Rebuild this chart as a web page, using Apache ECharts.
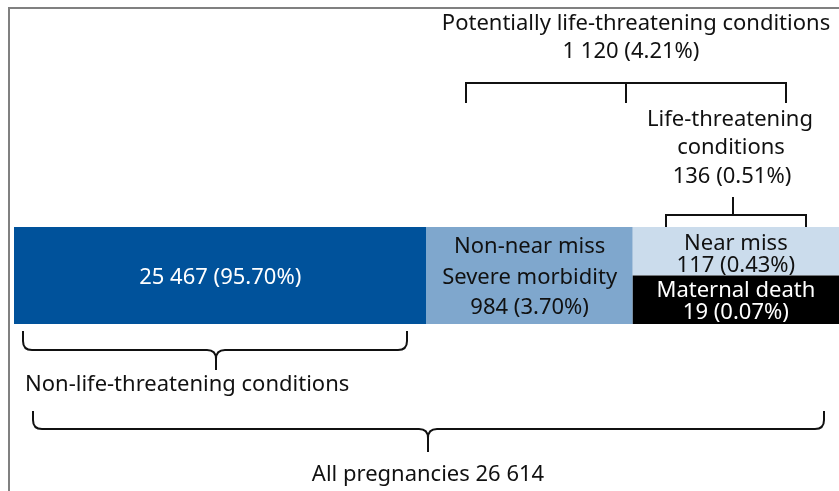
<!DOCTYPE html>
<html><head><meta charset="utf-8">
<script src="https://cdn.jsdelivr.net/npm/echarts@6/dist/echarts.min.js"></script>
<style>html,body{margin:0;padding:0;background:#fff}#c{width:839px;height:491px}</style>
</head><body><div id="c"></div>
<script>
// ---- data ----
const categories = ['Non-life-threatening conditions', 'Non-near miss severe morbidity', 'Near miss', 'Maternal death'];
const counts = [25467, 984, 117, 19];
const percents = [95.70, 3.70, 0.43, 0.07];
const totalPregnancies = 26614;
const potentialCount = 1120, potentialPct = 4.21;
const lifeThreatCount = 136, lifeThreatPct = 0.51;

// ---- schematic layout (not to scale) ----
const slotStart = [0, 2, 3, 3];
const slotEnd = [2, 3, 4, 4];
const rowStart = [0, 0, 1, 0];
const rowEnd = [2, 2, 2, 1];
const colors = ['#00529b', '#7fa7cd', '#cbdcec', '#000000'];
const textColors = ['#ffffff', '#111111', '#111111', '#ffffff'];
const lineHeights = [24, 30.5, 22.5, 22.5];
const labelOffsets = [2.5, 2, 3.5, 2];

const FONT = 'Noto Sans';
const FS = 22;

function fmt(n) { return String(n).replace(/\B(?=(\d{3})+(?!\d))/g, ' '); }
function cp(n, p) { return fmt(n) + ' (' + p.toFixed(2) + '%)'; }

const labels = [
  cp(counts[0], percents[0]),
  'Non-near miss\nSevere morbidity\n' + cp(counts[1], percents[1]),
  'Near miss\n' + cp(counts[2], percents[2]),
  'Maternal death\n' + cp(counts[3], percents[3])
];

const segData = categories.map((c, i) => ({
  name: c,
  value: [slotStart[i], slotEnd[i], rowStart[i], rowEnd[i], counts[i]]
}));

const chart = echarts.init(document.getElementById('c'), null, { renderer: 'canvas' });

function txt(x, y, s, align) {
  return { type: 'text', x: x, y: y, silent: true,
    style: { text: s, font: FS + 'px "' + FONT + '"', fill: '#111', align: align || 'center', verticalAlign: 'middle' } };
}

const pathStyle = { stroke: '#111', lineWidth: 2, fill: null };

function brace(x0, x1, top, y1, cx, bottom) {
  const r = 9;
  return 'M' + x0 + ',' + top + ' L' + x0 + ',' + (y1 - r) + ' Q' + x0 + ',' + y1 + ' ' + (x0 + r) + ',' + y1 +
    ' L' + (cx - r) + ',' + y1 + ' Q' + cx + ',' + y1 + ' ' + cx + ',' + (y1 + r) + ' L' + cx + ',' + bottom +
    ' M' + cx + ',' + (y1 + r) + ' Q' + cx + ',' + y1 + ' ' + (cx + r) + ',' + y1 +
    ' L' + (x1 - r) + ',' + y1 + ' Q' + x1 + ',' + y1 + ' ' + x1 + ',' + (y1 - r) + ' L' + x1 + ',' + top;
}

const annotationPaths = [
  'M466,103 L466,83 L786,83 L786,103 M626,83 L626,103',
  'M666,227 L666,215 L806,215 L806,227 M733,215 L733,197',
  brace(23, 407, 331, 350, 216, 370),
  brace(33, 824, 411, 429, 428, 452)
];

chart.setOption({
  animation: false,
  backgroundColor: '#ffffff',
  grid: { left: 14, right: 0, top: 227, height: 97 },
  xAxis: { type: 'value', min: 0, max: 4, show: false },
  yAxis: { type: 'value', min: 0, max: 2, show: false },
  series: [{
    type: 'custom',
    data: segData,
    renderItem: function (params, api) {
      const i = params.dataIndex;
      const p0 = api.coord([api.value(0), api.value(3)]);
      const p1 = api.coord([api.value(1), api.value(2)]);
      return {
        type: 'group',
        children: [
          { type: 'rect', shape: { x: p0[0], y: p0[1], width: p1[0] - p0[0], height: p1[1] - p0[1] },
            style: { fill: colors[i] } },
          { type: 'text', x: (p0[0] + p1[0]) / 2, y: (p0[1] + p1[1]) / 2 + labelOffsets[i],
            style: { text: labels[i], font: FS + 'px "' + FONT + '"', fill: textColors[i],
              align: 'center', verticalAlign: 'middle', lineHeight: lineHeights[i] } }
        ]
      };
    }
  }, {
    type: 'custom',
    coordinateSystem: 'none',
    silent: true,
    data: [0],
    renderItem: function () {
      return {
        type: 'group',
        children: annotationPaths.map(d => ({ type: 'path', shape: { pathData: d }, style: pathStyle }))
      };
    }
  }],
  graphic: [
    { type: 'polyline', shape: { points: [[9, 491], [9, 8], [839, 8]] }, style: { stroke: '#808080', lineWidth: 2, fill: null } },
    txt(636, 24, 'Potentially life-threatening conditions'),
    txt(631, 52, cp(potentialCount, potentialPct)),
    txt(730, 119.5, 'Life-threatening'),
    txt(731, 148, 'conditions'),
    txt(732, 176.5, cp(lifeThreatCount, lifeThreatPct)),
    txt(25, 384.5, categories[0], 'left'),
    txt(428, 474.5, 'All pregnancies ' + fmt(totalPregnancies))
  ]
});
</script>
</body></html>
